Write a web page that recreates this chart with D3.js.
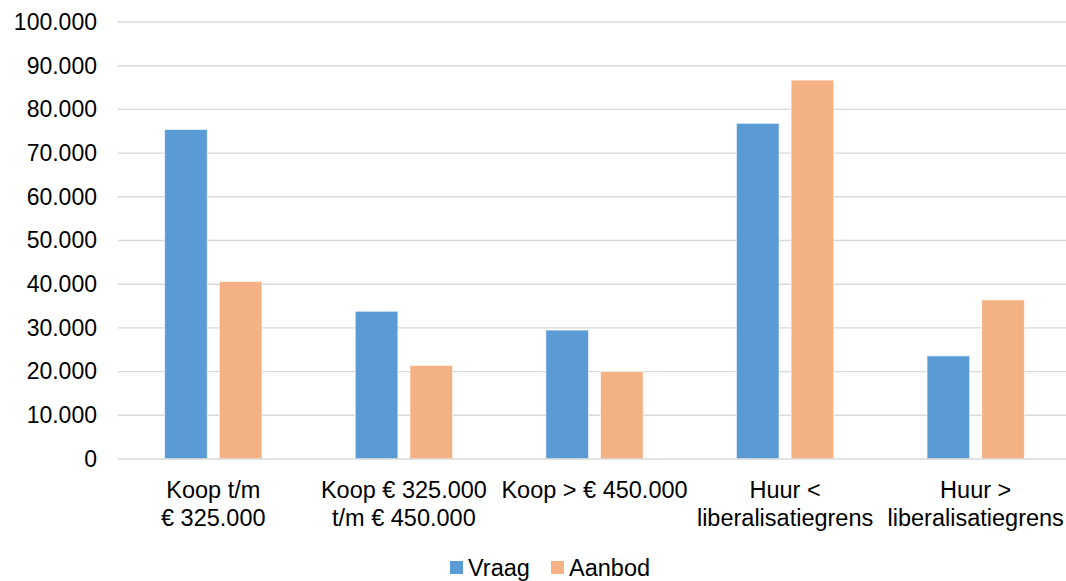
<!DOCTYPE html>
<html>
<head>
<meta charset="utf-8">
<script src="https://cdn.jsdelivr.net/npm/d3@7"></script>
<style>
  html, body { margin: 0; padding: 0; background: #fff; }
  svg { display: block; font-family: "Liberation Sans", Arial, sans-serif; }
</style>
</head>
<body>
<svg id="chart" width="1066" height="581"></svg>
<script>
const categories = [
  ["Koop t/m", "€ 325.000"],
  ["Koop € 325.000", "t/m € 450.000"],
  ["Koop > € 450.000"],
  ["Huur <", "liberalisatiegrens"],
  ["Huur >", "liberalisatiegrens"]
];
const seriesNames = ["Vraag", "Aanbod"];
const vraag  = [75400, 33800, 29500, 76800, 23600];
const aanbod = [40600, 21400, 20000, 86700, 36400];
const yTicks = [0, 10000, 20000, 30000, 40000, 50000, 60000, 70000, 80000, 90000, 100000];
const colors = ["#5B9BD5", "#F4B183"];

(function () {
const svg = d3.select("#chart");
const mLeft = 118, mRight = 1071, mTop = 22, mBottom = 459;
const catKeys = categories.map((c, i) => i);

const x0 = d3.scaleBand().domain(catKeys).range([mLeft, mRight]).padding(0);
const x1 = d3.scaleBand().domain(seriesNames).range([0, x0.bandwidth()])
  .paddingInner(0.22).paddingOuter(0.853);
const y = d3.scaleLinear().domain([0, 100000]).range([mBottom, mTop]);

const fmt = v => d3.format(",")(v).replace(/,/g, ".");

// y axis labels
const yAxis = d3.axisLeft(y).tickValues(yTicks).tickFormat(fmt).tickSize(0).tickPadding(21);
const gy = svg.append("g").attr("transform", `translate(${mLeft},0)`).call(yAxis);
gy.select(".domain").remove();
gy.selectAll("text").attr("font-size", 23).attr("fill", "#000")
  .attr("font-family", "Liberation Sans, Arial, sans-serif");

// gridlines
svg.append("g").selectAll("line").data(yTicks.filter(t => t > 0)).join("line")
  .attr("x1", mLeft).attr("x2", 1066)
  .attr("y1", d => y(d)).attr("y2", d => y(d))
  .attr("stroke", "#D9D9D9").attr("stroke-width", 1.4);

// bars
const data = catKeys.map(i => ({ i, vals: [vraag[i], aanbod[i]] }));
const groups = svg.append("g").selectAll("g").data(data).join("g")
  .attr("transform", d => `translate(${x0(d.i)},0)`);
groups.selectAll("rect").data(d => d.vals.map((v, k) => ({ v, k })))
  .join("rect")
  .attr("x", d => x1(seriesNames[d.k]))
  .attr("width", x1.bandwidth())
  .attr("y", d => y(d.v))
  .attr("height", d => y(0) - y(d.v))
  .attr("fill", d => colors[d.k])
  .attr("stroke", "#fff").attr("stroke-opacity", 0.6).attr("stroke-width", 1);

// x axis line
svg.append("line").attr("x1", mLeft).attr("x2", 1066)
  .attr("y1", y(0)).attr("y2", y(0))
  .attr("stroke", "#D9D9D9").attr("stroke-width", 1.4);

// category labels
const xl = svg.append("g");
categories.forEach((lines, i) => {
  const t = xl.append("text").attr("text-anchor", "middle")
    .attr("font-size", 23.5).attr("fill", "#000");
  lines.forEach((ln, j) => {
    t.append("tspan").attr("x", x0(i) + x0.bandwidth() / 2)
      .attr("y", 498 + j * 28.3).text(ln);
  });
});

// legend
const legend = svg.append("g");
const legX = [450, 551];
seriesNames.forEach((s, k) => {
  legend.append("rect").attr("x", legX[k]).attr("y", 561).attr("width", 13).attr("height", 13)
    .attr("fill", colors[k]);
  legend.append("text").attr("x", legX[k] + 18).attr("y", 576)
    .attr("font-size", 23.5).attr("fill", "#000").text(s);
});
})();
</script>
</body>
</html>
